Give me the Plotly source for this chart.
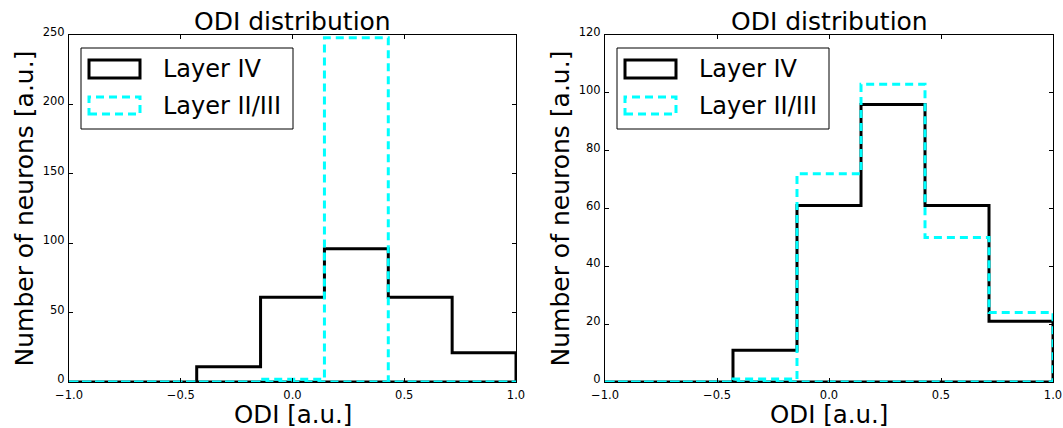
import plotly.graph_objects as go

W, H = 1063, 428

# ---- data ----
bin_edges = [-1.0, -0.7143, -0.4286, -0.1429, 0.1429, 0.4286, 0.7143, 1.0]
left_layer4 = [0, 0, 11, 61, 96, 61, 21]
left_layer23 = [0, 0, 0, 2, 248, 0, 0]
right_layer4 = [0, 0, 11, 61, 96, 61, 21]
right_layer23 = [0, 0, 1, 72, 103, 50, 24]
x_ticks = [-1.0, -0.5, 0.0, 0.5, 1.0]
left_y_ticks = [0, 50, 100, 150, 200, 250]
right_y_ticks = [0, 20, 40, 60, 80, 100, 120]
series_names = ["Layer IV", "Layer II/III"]
title_text = "ODI distribution"
x_label = "ODI [a.u.]"
y_label = "Number of neurons [a.u.]"

FONT = "DejaVu Sans"
CYAN = "#00FFFF"


def step_path(edges, counts):
    xs, ys = [edges[0]], [0]
    for i, c in enumerate(counts):
        xs += [edges[i], edges[i + 1]]
        ys += [c, c]
    xs += [edges[-1], edges[0]]
    ys += [0, 0]
    return xs, ys


def px(x):
    return x / W


def py(y):
    return 1 - y / H


# plot area pixel geometry
panels = [
    dict(x0=69, x1=516, xa="x", ya="y", l4=left_layer4, l23=left_layer23,
         yt=left_y_ticks),
    dict(x0=605, x1=1053, xa="x2", ya="y2", l4=right_layer4, l23=right_layer23,
         yt=right_y_ticks),
]
Y_TOP, Y_BOT = 35, 382

fig = go.Figure()
shapes = []
annotations = []

for i, p in enumerate(panels):
    xs, ys = step_path(bin_edges, p["l4"])
    fig.add_trace(go.Scatter(x=xs, y=ys, mode="lines", xaxis=p["xa"], yaxis=p["ya"],
                             line=dict(color="black", width=3), name=series_names[0],
                             showlegend=False))
    xs, ys = step_path(bin_edges, p["l23"])
    fig.add_trace(go.Scatter(x=xs, y=ys, mode="lines", xaxis=p["xa"], yaxis=p["ya"],
                             line=dict(color=CYAN, width=3, dash="8px,5px"),
                             name=series_names[1], showlegend=False))

    axis_common = dict(showline=True, linecolor="black", linewidth=1, mirror="ticks",
                       ticks="inside", ticklen=4, tickwidth=1, tickcolor="black",
                       showgrid=False, zeroline=False, automargin=False,
                       tickfont=dict(family=FONT, size=11.5, color="black"))
    xkey = "xaxis" if i == 0 else "xaxis2"
    ykey = "yaxis" if i == 0 else "yaxis2"
    fig.update_layout(**{
        xkey: dict(domain=[px(p["x0"]), px(p["x1"])], range=[-1, 1], tickvals=x_ticks,
                   tickformat=".1f", anchor=p["ya"], ticklabelstandoff=2, **axis_common),
        ykey: dict(domain=[py(Y_BOT), py(Y_TOP)], range=[0, p["yt"][-1]],
                   tickvals=p["yt"], anchor=p["xa"], ticklabelstandoff=1,
                   ticklabelshift=-3, **axis_common),
    })

    cx = (p["x0"] + p["x1"]) / 2
    # title
    annotations.append(dict(text=title_text, x=px(cx), y=py(Y_TOP + 3), xref="paper",
                            yref="paper", xanchor="center", yanchor="bottom",
                            showarrow=False, font=dict(family=FONT, size=25, color="black")))
    # x label
    annotations.append(dict(text=x_label, x=px(cx), y=py(399), xref="paper", yref="paper",
                            xanchor="center", yanchor="top", showarrow=False, borderpad=0,
                            font=dict(family=FONT, size=24.5, color="black")))
    # y label
    annotations.append(dict(text=y_label, x=px(p["x0"] - 45), y=py((Y_TOP + Y_BOT) / 2),
                            xref="paper", yref="paper", xanchor="center", yanchor="middle",
                            textangle=-90, showarrow=False,
                            font=dict(family=FONT, size=25, color="black")))

    # legend (drawn manually to mimic matplotlib)
    o = p["x0"] - 69
    shapes.append(dict(type="rect", xref="paper", yref="paper",
                       x0=px(81 + o), x1=px(293 + o), y0=py(129), y1=py(48),
                       line=dict(color="black", width=1), fillcolor="white", layer="above"))
    shapes.append(dict(type="rect", xref="paper", yref="paper",
                       x0=px(89 + o), x1=px(140 + o), y0=py(78), y1=py(60),
                       line=dict(color="black", width=3), fillcolor="rgba(0,0,0,0)",
                       layer="above"))
    shapes.append(dict(type="rect", xref="paper", yref="paper",
                       x0=px(89 + o), x1=px(140 + o), y0=py(114), y1=py(97),
                       line=dict(color=CYAN, width=3, dash="8px,5px"),
                       fillcolor="rgba(0,0,0,0)", layer="above"))
    for name, yy in zip(series_names, [69, 106]):
        annotations.append(dict(text=name, x=px(161 + o), y=py(yy), xref="paper",
                                yref="paper", xanchor="left", yanchor="middle",
                                showarrow=False,
                                font=dict(family=FONT, size=24, color="black")))

fig.update_layout(width=W, height=H, margin=dict(l=0, r=0, t=0, b=0),
                  paper_bgcolor="white", plot_bgcolor="white", showlegend=False,
                  shapes=shapes, annotations=annotations,
                  font=dict(family=FONT, color="black"))

fig.write_html("out.html")
